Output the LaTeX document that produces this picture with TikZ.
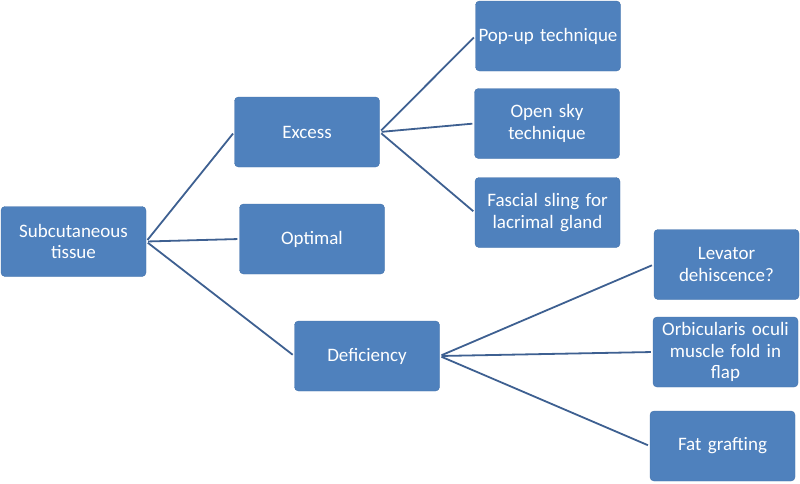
\documentclass[tikz,border=0pt]{standalone}
\usepackage{fontspec}
\setmainfont{Carlito}
\usepackage{xcolor}
\definecolor{boxblue}{RGB}{79,129,189}
\definecolor{boxedge}{RGB}{68,114,170}
\definecolor{linkblue}{RGB}{62,96,145}

\begin{document}
\begin{tikzpicture}[x=1pt, y=-1pt,
  box/.style={draw=boxedge, fill=boxblue, rounded corners=4pt, minimum width=145pt, minimum height=70pt,
    text width=143pt, align=center, text=white, font=\fontsize{19}{21.5}\selectfont, inner sep=0pt},
  link/.style={draw=linkblue, line width=1.8pt, shorten <=2pt, shorten >=2pt}]
\useasboundingbox (0,0) rectangle (800,483);
% first column
\node[box] (Sub) at (73.5,241.5) {Subcutaneous\\tissue};
% second column
\node[box] (Excess) at (307,132) {Excess};
\node[box] (Optimal) at (312,239) {Optimal};
\node[box] (Deficiency) at (367,356) {Deficiency};
% third column
\node[box] (PopUp) at (548,36) {Pop-up technique};
\node[box] (OpenSky) at (547,123.5) {Open sky\\technique};
\node[box] (Sling) at (547.5,212.5) {Fascial sling for\\lacrimal gland};
\node[box] (Levator) at (726.5,264.5) {Levator\\dehiscence?};
\node[box] (Orbic) at (725.5,352) {Orbicularis oculi\\muscle fold in\\flap};
\node[box] (FatGraft) at (722.5,446) {Fat grafting};
% links
\foreach \t in {Excess,Optimal,Deficiency} \draw[link] (Sub.east) -- (\t.west);
\foreach \t in {PopUp,OpenSky,Sling} \draw[link] (Excess.east) -- (\t.west);
\foreach \t in {Levator,Orbic,FatGraft} \draw[link] (Deficiency.east) -- (\t.west);
\end{tikzpicture}
\end{document}
